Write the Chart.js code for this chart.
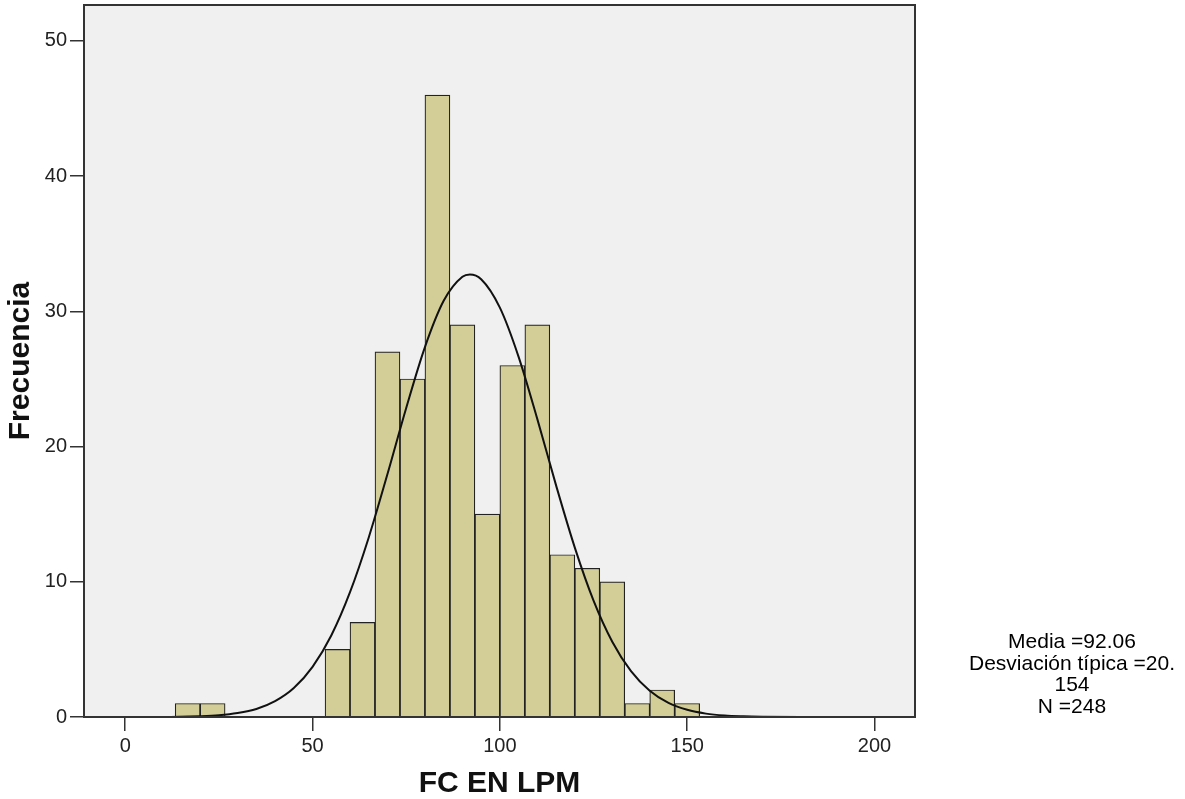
<!DOCTYPE html>
<html lang="es">
<head>
    <meta charset="UTF-8">
    <title>FC EN LPM</title>
    <script src="https://cdn.jsdelivr.net/npm/chart.js"></script>
    <style>
        html, body { margin: 0; padding: 0; background: #fff; }
        #wrap { width: 1185px; height: 799px; }
    </style>
</head>
<body>
    <div id="wrap"><canvas id="histChart" width="1185" height="799"></canvas></div>

    <script>
        // bin centres (bin width 20/3) and counts
        const binCenters = [16.67, 23.33, 56.67, 63.33, 70, 76.67, 83.33, 90, 96.67, 103.33, 110, 116.67, 123.33, 130, 136.67, 143.33, 150];
        const counts = [1, 1, 5, 7, 27, 25, 46, 29, 15, 26, 29, 12, 11, 10, 1, 2, 1];

        // normal curve
        const curveX = [-11, 0, 10, 20, 25, 30, 35, 40, 45, 50, 55, 60, 65, 70, 75, 80, 85, 90, 92, 95, 100, 105, 110, 115, 120, 125, 130, 135, 140, 145, 150, 155, 160, 165, 170, 180, 190, 200, 211];
        const curveY = [0, 0, 0, 0.06, 0.13, 0.29, 0.59, 1.17, 2.14, 3.71, 6.03, 9.23, 13.28, 17.97, 22.86, 27.36, 30.78, 32.56, 32.73, 32.38, 30.28, 26.64, 22.03, 17.13, 12.53, 8.61, 5.57, 3.39, 1.94, 1.04, 0.53, 0.25, 0.11, 0.05, 0.02, 0, 0, 0, 0];

        const xTicks = [0, 50, 100, 150, 200];
        const yTicks = [0, 10, 20, 30, 40, 50];

        const statsLines = ['Media =92.06', 'Desviación típica =20.', '154', 'N =248'];

        const plotFrame = {
            id: 'plotFrame',
            beforeDatasetsDraw(chart) {
                const { ctx, chartArea: a } = chart;
                ctx.save();
                ctx.fillStyle = '#f0f0f0';
                ctx.fillRect(a.left, a.top, a.right - a.left, a.bottom - a.top);
                ctx.restore();
            },
            afterDatasetsDraw(chart) {
                const { ctx, chartArea: a } = chart;
                ctx.save();
                ctx.strokeStyle = '#333';
                ctx.lineWidth = 2;
                ctx.strokeRect(a.left, a.top, a.right - a.left, a.bottom - a.top);
                ctx.restore();
            },
            afterDraw(chart) {
                const ctx = chart.ctx;
                ctx.save();
                ctx.fillStyle = '#000';
                ctx.font = '21px "Liberation Sans", Arial, sans-serif';
                ctx.textAlign = 'center';
                ctx.textBaseline = 'alphabetic';
                statsLines.forEach((t, i) => ctx.fillText(t, 1072, 648 + i * 21.6));
                ctx.restore();
            }
        };

        const ctx = document.getElementById('histChart').getContext('2d');
        const histChart = new Chart(ctx, {
            type: 'bar',
            data: {
                datasets: [
                    {
                        type: 'line',
                        label: 'Normal',
                        data: curveX.map((x, i) => ({ x: x, y: curveY[i] })),
                        borderColor: '#111',
                        borderWidth: 2,
                        pointRadius: 0,
                        cubicInterpolationMode: 'monotone',
                        fill: false,
                        order: 0,
                    },
                    {
                        label: 'Frecuencia',
                        data: binCenters.map((x, i) => ({ x: x, y: counts[i] })),
                        backgroundColor: '#d3ce97',
                        borderColor: '#222',
                        borderWidth: 1.2,
                        barPercentage: 1.0,
                        categoryPercentage: 1.0,
                        order: 1,
                    },
                ],
            },
            options: {
                responsive: false,
                animation: false,
                events: [],
                layout: { padding: { top: 5, right: 270, left: 0, bottom: 0 } },
                plugins: {
                    legend: { display: false },
                    tooltip: { enabled: false },
                },
                scales: {
                    x: {
                        type: 'linear',
                        min: -11,
                        max: 210.8,
                        offset: false,
                        afterFit: (s) => { s.height = 82; s.paddingLeft = 0; s.paddingRight = 0; },
                        afterBuildTicks: (s) => { s.ticks = xTicks.map(v => ({ value: v })); },
                        ticks: {
                            stepSize: 50,
                            includeBounds: false,
                            color: '#222',
                            padding: 3,
                            maxRotation: 0,
                            font: { family: '"Liberation Sans", Arial', size: 20 },
                        },
                        grid: {
                            offset: false,
                            drawOnChartArea: false,
                            tickLength: 14,
                            color: '#333',
                            lineWidth: 1.5,
                        },
                        border: { display: false },
                        title: {
                            display: true,
                            text: 'FC EN LPM',
                            color: '#111',
                            padding: { top: 0, bottom: 0 },
                            font: { family: '"Liberation Sans", Arial', size: 30, weight: 'bold', lineHeight: 1 },
                        },
                    },
                    y: {
                        min: 0,
                        max: 52.66,
                        afterFit: (s) => { s.width = 84; s.paddingTop = 0; s.paddingBottom = 0; },
                        afterBuildTicks: (s) => { s.ticks = yTicks.map(v => ({ value: v })); },
                        ticks: {
                            stepSize: 10,
                            includeBounds: false,
                            color: '#222',
                            padding: 3,
                            font: { family: '"Liberation Sans", Arial', size: 20 },
                        },
                        grid: {
                            drawOnChartArea: false,
                            tickLength: 14,
                            color: '#333',
                            lineWidth: 1.5,
                        },
                        border: { display: false },
                        title: {
                            display: true,
                            text: 'Frecuencia',
                            color: '#111',
                            padding: { top: 6, bottom: 0 },
                            font: { family: '"Liberation Sans", Arial', size: 30, weight: 'bold', lineHeight: 1 },
                        },
                    },
                },
            },
            plugins: [plotFrame],
        });
    </script>
</body>
</html>
